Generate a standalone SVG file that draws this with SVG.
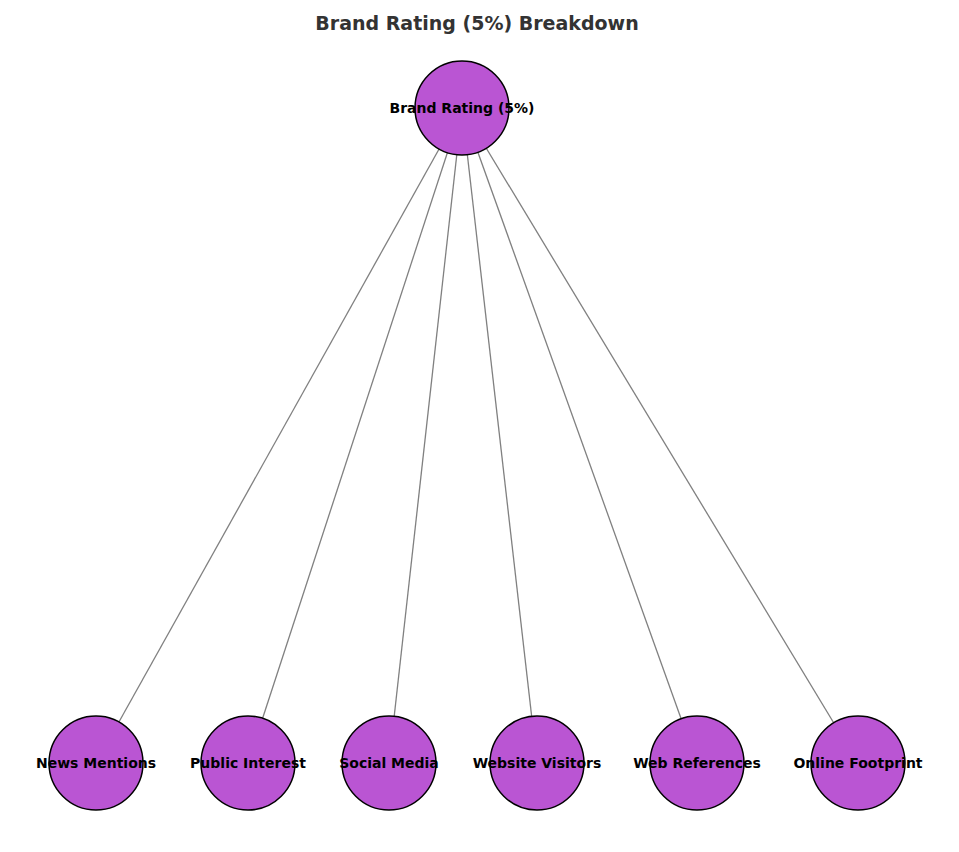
<svg xmlns="http://www.w3.org/2000/svg" width="959" height="852" viewBox="0 0 959 852">
<style>
.n{fill:#BA55D3;stroke:#000;stroke-width:1.5}
.l{font-family:"DejaVu Sans",sans-serif;font-weight:bold;font-size:14px;text-anchor:middle;fill:#000}
.e{stroke:#808080;stroke-width:1.3}
</style>
<rect width="959" height="852" fill="#fff"/>
<text x="477" y="30" font-family="DejaVu Sans,sans-serif" font-weight="bold" font-size="19" text-anchor="middle" fill="#333">Brand Rating (5%) Breakdown</text>
<g id="edges">
<line class="e" x1="462" y1="108" x2="96" y2="763"/>
<line class="e" x1="462" y1="108" x2="248" y2="763"/>
<line class="e" x1="462" y1="108" x2="389" y2="763"/>
<line class="e" x1="462" y1="108" x2="537" y2="763"/>
<line class="e" x1="462" y1="108" x2="697" y2="763"/>
<line class="e" x1="462" y1="108" x2="858" y2="763"/>
</g>
<g id="root"><circle class="n" cx="462" cy="108" r="47"/><text class="l" x="462" y="113">Brand Rating (5%)</text></g>
<g id="n1"><circle class="n" cx="96" cy="763" r="47"/><text class="l" x="96" y="768">News Mentions</text></g>
<g id="n2"><circle class="n" cx="248" cy="763" r="47"/><text class="l" x="248" y="768">Public Interest</text></g>
<g id="n3"><circle class="n" cx="389" cy="763" r="47"/><text class="l" x="389" y="768">Social Media</text></g>
<g id="n4"><circle class="n" cx="537" cy="763" r="47"/><text class="l" x="537" y="768">Website Visitors</text></g>
<g id="n5"><circle class="n" cx="697" cy="763" r="47"/><text class="l" x="697" y="768">Web References</text></g>
<g id="n6"><circle class="n" cx="858" cy="763" r="47"/><text class="l" x="858" y="768">Online Footprint</text></g>
</svg>
